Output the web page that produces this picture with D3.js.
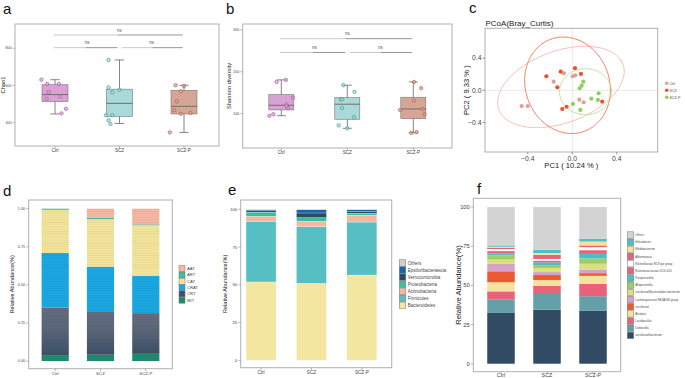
<!DOCTYPE html>
<html><head><meta charset="utf-8">
<script src="https://cdn.jsdelivr.net/npm/d3@7/dist/d3.min.js"></script>
<style>body{margin:0;background:#fff}svg{display:block;font-family:"Liberation Sans",Arial,sans-serif}</style>
</head><body>
<svg id="chart" width="685" height="378"></svg>
<script>
// ---------------- DATA ----------------
const groups = ["Ctrl", "SCZ", "SCZ-P"];

// (a) Chao1
const chao1Ticks = [400, 600, 800];
const chao1Q1 = [513, 434, 447];
const chao1Med = [551, 504, 488];
const chao1Q3 = [604, 580, 574];
const chao1Lo = [447, 396, 348];
const chao1Hi = [631, 737, 601];
const chao1Points = [[631, 608, 608, 565, 529, 541, 475, 450], [737, 590, 563, 577, 440, 440, 413, 393], [601, 597, 569, 515, 468, 448, 452, 348]];
const chao1Jitter = [[-0.21, -0.12, 0.06, -0.10, -0.13, 0.08, 0.17, 0.10], [-0.17, -0.17, -0.11, 0, -0.21, -0.11, -0.17, -0.14], [-0.13, 0, -0.05, -0.11, -0.15, -0.05, 0.10, -0.22]];
const chao1Sig = [871, 803];

// (b) Shannon
const shannonTicks = [100, 200, 300];
const shannonQ1 = [108.9, 86.6, 88];
const shannonMed = [120, 122.5, 111.2];
const shannonQ3 = [145.5, 138.3, 139.2];
const shannonLo = [95.2, 65, 54.5];
const shannonHi = [180.6, 167.9, 175.8];
const shannonPoints = [[175.8, 180.6, 138, 121.5, 113, 95, 98.6, 118], [168, 152, 134, 134, 113.6, 91.4, 72, 65], [175.8, 160.8, 131, 108.9, 111.2, 98.6, 54, 56]];
const shannonJitter = [[-0.07, 0.07, 0.18, 0.08, 0.10, -0.18, -0.12, 0.08], [-0.06, 0.11, -0.10, -0.08, -0.08, 0.10, -0.13, 0], [0.01, 0.12, 0.01, -0.20, 0.14, 0.17, -0.03, 0.05]];
const shannonSig = [279, 246];

// (c) PCoA
const pcTicks = [-0.4, 0.0, 0.4];
const pc1 = [[-0.455, -0.401, -0.167, -0.075, 0.004, 0.027, 0.063, 0.102], [-0.233, -0.104, -0.135, 0.024, 0.078, -0.051, -0.090, 0.269], [0.099, 0.084, 0.066, 0.006, 0.072, 0.171, 0.237, 0.230]];
const pc2 = [[-0.196, -0.196, 0.107, 0.211, 0.174, 0.186, -0.117, -0.149], [0.174, 0.231, 0.037, 0.274, 0.203, -0.205, -0.233, -0.140], [0.107, 0.057, 0.025, -0.170, -0.244, -0.104, -0.037, -0.120]];
const ellipseCx = [-0.102, -0.043, 0.119];
const ellipseCy = [0.041, 0.062, -0.017];
const ellipseM = [[0.558, -0.111, 0.280, 0.420], [-0.1506, -0.3549, 0.5722, -0.1784], [0.234, 0, 0, 0.286]];
const pcLegend = ["Ctrl", "SCZ", "SCZ-P"];

// (d) gene abundance
const dKeys = ["MIT", "CRT", "CRAT", "CAT", "ART", "AAT"];
const dValues = {
  MIT: [0.035, 0.042, 0.053],
  CRT: [0.317, 0.280, 0.262],
  CRAT: [0.357, 0.297, 0.243],
  CAT: [0.284, 0.313, 0.333],
  ART: [0.007, 0.009, 0.006],
  AAT: [0.0, 0.059, 0.103]
};
const dTicks = [0, 0.25, 0.5, 0.75, 1.0];

// (e) phylum
const eKeys = ["Bacteroidetes", "Firmicutes", "Actinobacteria", "Proteobacteria", "Verrucomicrobia", "Epsilonbacteraeota", "Others"];
const eValues = {
  Bacteroidetes: [51.9, 51.0, 56.5],
  Firmicutes: [40.2, 37.5, 35.1],
  Actinobacteria: [3.3, 3.6, 4.6],
  Proteobacteria: [2.8, 2.4, 1.2],
  Verrucomicrobia: [0.9, 3.1, 1.1],
  Epsilonbacteraeota: [0.7, 2.2, 1.3],
  Others: [0.2, 0.2, 0.2]
};
const pctTicks = [0, 25, 50, 75, 100];

// (f) genus
const fKeys = ["uncultured bacterium", "Dubosiella", "Lactobacillus", "Alistipes", "uncultured", "Lachnospiraceae NK4A136 group", "uncultured Bacteroidales bacterium", "Alloprevotella", "Paraprevotella", "Ruminococcaceae UCG-014", "Rikenellaceae RC9 gut group", "Akkermansia", "Bifidobacterium", "Helicobacter", "Others"];
const fValues = {
  "uncultured bacterium": [32.4, 34.5, 33.9],
  "Dubosiella": [8.5, 10.0, 9.2],
  "Lactobacillus": [5.3, 5.3, 7.9],
  "Alistipes": [5.8, 3.6, 5.1],
  "uncultured": [7.0, 3.2, 1.7],
  "Lachnospiraceae NK4A136 group": [4.9, 1.9, 2.1],
  "uncultured Bacteroidales bacterium": [2.6, 2.6, 3.9],
  "Alloprevotella": [2.6, 1.9, 3.4],
  "Paraprevotella": [1.3, 1.7, 2.9],
  "Ruminococcaceae UCG-014": [1.5, 1.1, 2.4],
  "Rikenellaceae RC9 gut group": [1.3, 1.1, 1.9],
  "Akkermansia": [0.85, 2.6, 1.1],
  "Bifidobacterium": [0.6, 1.1, 2.5],
  "Helicobacter": [0.85, 2.1, 1.7],
  "Others": [24.5, 27.3, 20.3]
};

// ---------------- STYLES ----------------
const boxFill = ["#d9a2d2", "#a9d9d8", "#d7a595"];
const ptStroke = ["#a45fa2", "#3f9d9c", "#b0644f"];
const pcColor = ["#dda195", "#ef4f2e", "#90cf5b"];
const ellColor = ["#f2b9aa", "#f0714f", "#b5dd92"];
const dColor = {AAT: "#f5b7a2", ART: "#3fbc9f", CAT: "#f2e49b", CRAT: "#1ba7e1", CRT: "#3e5168", MIT: "#1f8b6d"};
const eColor = {Others: "#cfcfcf", Epsilonbacteraeota: "#1566a9", Verrucomicrobia: "#2e4a5f", Proteobacteria: "#3ebd9d", Actinobacteria: "#f5b6a2", Firmicutes: "#55bfc3", Bacteroidetes: "#f3e6a0"};
const fColor = {
  "Others": "#d3d3d3", "Helicobacter": "#4dbdc6", "Bifidobacterium": "#f4e39c", "Akkermansia": "#e9617b",
  "Rikenellaceae RC9 gut group": "#ffffff", "Ruminococcaceae UCG-014": "#e9617b", "Paraprevotella": "#4dbdc6",
  "Alloprevotella": "#9ecb6c", "uncultured Bacteroidales bacterium": "#d9e07c", "Lachnospiraceae NK4A136 group": "#d7a1c9",
  "uncultured": "#eb5a31", "Alistipes": "#f4e39c", "Lactobacillus": "#e9617b", "Dubosiella": "#63a0a7", "uncultured bacterium": "#304b63"
};
const frameStroke = "#b0b0b0";
const textCol = "#444";

const svg = d3.select("#chart");
const defs = svg.append("defs");

function panelLabel(t, x, y) {
  svg.append("text").attr("x", x).attr("y", y).attr("font-size", 15).attr("fill", "#111").text(t);
}
function frame(g, x0, y0, x1, y1) {
  g.append("rect").attr("x", x0).attr("y", y0).attr("width", x1 - x0).attr("height", y1 - y0)
    .attr("fill", "none").attr("stroke", frameStroke).attr("stroke-width", 1);
}
function yAxis(g, y, x0, ticks, fmt, fs) {
  ticks.forEach(t => {
    g.append("line").attr("x1", x0 - 2.5).attr("x2", x0).attr("y1", y(t)).attr("y2", y(t)).attr("stroke", "#777").attr("stroke-width", 0.5);
    g.append("text").attr("x", x0 - 3.5).attr("y", y(t)).attr("dy", "0.35em").attr("text-anchor", "end")
      .attr("font-size", fs).attr("fill", textCol).text(fmt(t));
  });
}
function xAxis(g, xs, y1, labels, fs, dy) {
  labels.forEach(l => {
    g.append("line").attr("x1", xs(l)).attr("x2", xs(l)).attr("y1", y1).attr("y2", y1 + 2.5).attr("stroke", "#777").attr("stroke-width", 0.5);
    g.append("text").attr("x", xs(l)).attr("y", y1 + dy).attr("text-anchor", "middle").attr("font-size", fs).attr("fill", textCol).text(l);
  });
}
function vTitle(g, t, x, y, fs) {
  g.append("text").attr("transform", `translate(${x},${y}) rotate(-90)`).attr("text-anchor", "middle")
    .attr("font-size", fs).attr("fill", "#222").text(t);
}

// ---------------- BOX PANELS ----------------
function boxPanel(opt) {
  const g = svg.append("g");
  const x = d3.scalePoint().domain(groups).range([opt.cx0, opt.cx1]);
  const y = d3.scaleLinear().domain(opt.dom).range([opt.fy1, opt.fy0]);
  const step = x.step();
  const bw = opt.bw;
  groups.forEach((gr, i) => {
    const cx = x(gr);
    g.append("line").attr("x1", cx).attr("x2", cx).attr("y1", y(opt.lo[i])).attr("y2", y(opt.hi[i])).attr("stroke", "#666").attr("stroke-width", 0.8);
    [opt.lo[i], opt.hi[i]].forEach(v => g.append("line").attr("x1", cx - bw * 0.18).attr("x2", cx + bw * 0.18).attr("y1", y(v)).attr("y2", y(v)).attr("stroke", "#666").attr("stroke-width", 0.8));
    g.append("rect").attr("x", cx - bw / 2).attr("y", y(opt.q3[i])).attr("width", bw).attr("height", y(opt.q1[i]) - y(opt.q3[i]))
      .attr("fill", boxFill[i]).attr("stroke", "#777").attr("stroke-width", 0.6);
    g.append("line").attr("x1", cx - bw / 2).attr("x2", cx + bw / 2).attr("y1", y(opt.med[i])).attr("y2", y(opt.med[i])).attr("stroke", "#666").attr("stroke-width", 0.9);
    opt.pts[i].forEach((v, j) => {
      g.append("circle").attr("cx", cx + opt.jit[i][j] * step).attr("cy", y(v)).attr("r", 1.7)
        .attr("fill", boxFill[i]).attr("fill-opacity", 0.7).attr("stroke", ptStroke[i]).attr("stroke-width", 0.7);
    });
  });
  // significance brackets (Ctrl–SCZ-P on top, Ctrl–SCZ and SCZ–SCZ-P below)
  const sigs = [[0, 2, opt.sig[0]], [0, 1, opt.sig[1]], [1, 2, opt.sig[1]]];
  sigs.forEach(([a, b, v]) => {
    const xa = a === 1 ? x(groups[a]) + 0.04 * step : x(groups[a]) - 0.02 * step;
    const xb = b === 1 ? x(groups[b]) - 0.03 * step : x(groups[b]) - 0.02 * step;
    const xm = (xa + xb) / 2;
    g.append("line").attr("x1", xa).attr("x2", xm).attr("y1", y(v)).attr("y2", y(v)).attr("stroke-width", 0.9).attr("stroke", "#c4c4c4");
    g.append("line").attr("x1", xm).attr("x2", xb).attr("y1", y(v)).attr("y2", y(v)).attr("stroke-width", 0.9).attr("stroke", "#8a8a8a");
    g.append("text").attr("x", (x(groups[a]) + x(groups[b])) / 2).attr("y", y(v) - 3.3).attr("text-anchor", "middle")
      .attr("font-size", 4.5).attr("fill", "#555").text("ns");
  });
  frame(g, opt.fx0, opt.fy0, opt.fx1, opt.fy1);
  yAxis(g, y, opt.fx0, opt.ticks, d3.format("d"), 3.6);
  xAxis(g, x, opt.fy1, groups, 4.6, 6.2);
  vTitle(g, opt.title, opt.titleX, (opt.fy0 + opt.fy1) / 2, 5.8);
}

boxPanel({fx0: 15, fx1: 219, fy0: 24, fy1: 146, cx0: 55, cx1: 184, bw: 26, dom: [275, 930], ticks: chao1Ticks,
  q1: chao1Q1, med: chao1Med, q3: chao1Q3, lo: chao1Lo, hi: chao1Hi, pts: chao1Points, jit: chao1Jitter, sig: chao1Sig,
  title: "Chao1", titleX: 5});
boxPanel({fx0: 242.7, fx1: 452, fy0: 24, fy1: 148, cx0: 281.3, cx1: 413.3, bw: 25, dom: [18, 314], ticks: shannonTicks,
  q1: shannonQ1, med: shannonMed, q3: shannonQ3, lo: shannonLo, hi: shannonHi, pts: shannonPoints, jit: shannonJitter, sig: shannonSig,
  title: "Shannon diversity", titleX: 231});

panelLabel("a", 3, 14);
panelLabel("b", 226, 14);

// ---------------- PCoA ----------------
(function () {
  const g = svg.append("g");
  const fx0 = 485, fx1 = 657.7, fy0 = 28.3, fy1 = 152;
  const x = d3.scaleLinear().domain([-0.785, 0.768]).range([fx0, fx1]);
  const y = d3.scaleLinear().domain([-0.767, 0.77]).range([fy1, fy0]);
  g.append("line").attr("x1", x(0)).attr("x2", x(0)).attr("y1", fy0).attr("y2", fy1).attr("stroke", "#e3e3e3").attr("stroke-width", 0.8);
  g.append("line").attr("x1", fx0).attr("x2", fx1).attr("y1", y(0)).attr("y2", y(0)).attr("stroke", "#e3e3e3").attr("stroke-width", 0.8);
  const ts = d3.range(0, 2 * Math.PI + 0.01, Math.PI / 90);
  const line = d3.line().x(d => x(d[0])).y(d => y(d[1]));
  groups.forEach((gr, i) => {
    const m = ellipseM[i];
    const pts = ts.map(t => [ellipseCx[i] + m[0] * Math.cos(t) + m[1] * Math.sin(t), ellipseCy[i] + m[2] * Math.cos(t) + m[3] * Math.sin(t)]);
    g.append("path").attr("d", line(pts)).attr("fill", "none").attr("stroke", ellColor[i]).attr("stroke-width", 0.9);
  });
  groups.forEach((gr, i) => {
    pc1[i].forEach((v, j) => {
      g.append("circle").attr("cx", x(v)).attr("cy", y(pc2[i][j])).attr("r", 2.1).attr("fill", pcColor[i]);
    });
  });
  frame(g, fx0, fy0, fx1, fy1);
  const fmt = v => (v < 0 ? "\u2212" : "") + Math.abs(v).toFixed(1);
  pcTicks.forEach(t => {
    g.append("line").attr("x1", fx0 - 2.5).attr("x2", fx0).attr("y1", y(t)).attr("y2", y(t)).attr("stroke", "#555").attr("stroke-width", 0.6);
    g.append("text").attr("x", fx0 - 3.5).attr("y", y(t)).attr("dy", "0.35em").attr("text-anchor", "end").attr("font-size", 6.8).attr("fill", textCol).text(fmt(t));
    g.append("line").attr("x1", x(t)).attr("x2", x(t)).attr("y1", fy1).attr("y2", fy1 + 2.5).attr("stroke", "#555").attr("stroke-width", 0.6);
    g.append("text").attr("x", x(t)).attr("y", fy1 + 9).attr("text-anchor", "middle").attr("font-size", 6.8).attr("fill", textCol).text(fmt(t));
  });
  g.append("text").attr("x", (fx0 + fx1) / 2).attr("y", 167.5).attr("text-anchor", "middle").attr("font-size", 7.6).attr("fill", "#222").text("PC1 ( 10.24 % )");
  vTitle(g, "PC2 ( 9.33 % )", 468.5, (fy0 + fy1) / 2, 7.6);
  g.append("text").attr("x", fx0 + 0.5).attr("y", 26).attr("font-size", 8).attr("fill", "#222").text("PCoA(Bray_Curtis)");
  pcLegend.forEach((l, i) => {
    g.append("circle").attr("cx", 666.7).attr("cy", 83.3 + i * 7).attr("r", 1.8).attr("fill", pcColor[i]);
    g.append("text").attr("x", 669.5).attr("y", 83.3 + i * 7).attr("dy", "0.35em").attr("font-size", 3.6).attr("fill", textCol).text(l);
  });
})();
panelLabel("c", 469, 13);

// ---------------- STACKED BAR PANELS ----------------
const pat = defs.append("pattern").attr("id", "stripes").attr("patternUnits", "userSpaceOnUse").attr("width", 10).attr("height", 2.2);
pat.append("rect").attr("x", 0).attr("y", 0).attr("width", 10).attr("height", 0.5).attr("fill", "#000").attr("fill-opacity", 0.07);
const crtGrad = defs.append("linearGradient").attr("id", "crtGrad").attr("x1", 0).attr("x2", 0).attr("y1", 0).attr("y2", 1);
crtGrad.append("stop").attr("offset", 0).attr("stop-color", "#636d7f");
crtGrad.append("stop").attr("offset", 0.45).attr("stop-color", "#5a6679");
crtGrad.append("stop").attr("offset", 1).attr("stop-color", "#3c5068");

function stackPanel(opt) {
  const g = svg.append("g");
  const x = d3.scaleBand().domain(groups).range([opt.bx0, opt.bx1]).paddingInner(opt.pi).paddingOuter(opt.po);
  const y = d3.scaleLinear().domain(opt.dom).range([opt.fy1, opt.fy0]);
  const rows = groups.map((gr, i) => { const r = {group: gr}; opt.keys.forEach(k => r[k] = opt.values[k][i]); return r; });
  const series = d3.stack().keys(opt.keys)(rows);
  series.forEach(s => {
    s.forEach(d => {
      const h = y(d[0]) - y(d[1]);
      if (h <= 0) return;
      g.append("rect").attr("x", x(d.data.group)).attr("y", y(d[1])).attr("width", x.bandwidth()).attr("height", h)
        .attr("fill", opt.fill(s.key)).attr("stroke", opt.stroke || "none").attr("stroke-width", opt.sw || 0);
      if (opt.stripes) g.append("rect").attr("x", x(d.data.group)).attr("y", y(d[1])).attr("width", x.bandwidth()).attr("height", h).attr("fill", "url(#stripes)");
    });
  });
  frame(g, opt.fx0, opt.fy0, opt.fx1, opt.fy1);
  yAxis(g, y, opt.fx0, opt.ticks, opt.fmt, opt.tfs);
  const xc = gname => x(gname) + x.bandwidth() / 2;
  xAxis(g, xc, opt.fy1, groups, opt.xfs, opt.xdy);
  vTitle(g, "Relative Abundance(%)", opt.titleX, (opt.fy0 + opt.fy1) / 2, opt.titleFs);
  // legend
  const lk = opt.keys.slice().reverse();
  lk.forEach((k, i) => {
    const cy = opt.ly0 + i * opt.lsp;
    g.append("rect").attr("x", opt.lx).attr("y", cy - opt.ks / 2).attr("width", opt.ks).attr("height", opt.ks)
      .attr("fill", opt.legFill(k)).attr("stroke", "#777").attr("stroke-width", 0.5);
    g.append("text").attr("x", opt.lx + opt.ks + opt.tgap).attr("y", cy).attr("dy", "0.35em").attr("font-size", opt.lfs).attr("fill", textCol).text(k);
  });
  return g;
}

stackPanel({keys: dKeys, values: dValues, fill: k => k === "CRT" ? "url(#crtGrad)" : dColor[k], legFill: k => dColor[k], stripes: true,
  bx0: 28.7, bx1: 172.3, pi: 0.4, po: 0.285, fx0: 28.7, fx1: 172.3, fy0: 200, fy1: 368.7, dom: [-0.05, 1.057],
  ticks: dTicks, fmt: d3.format(".2f"), tfs: 3.8, xfs: 4.4, xdy: 5.8, titleX: 14, titleFs: 5.6,
  lx: 179, ly0: 268.7, lsp: 6.3, ks: 6, lfs: 4.2, tgap: 2});
stackPanel({keys: eKeys, values: eValues, fill: k => eColor[k], legFill: k => eColor[k], stroke: "#fff", sw: 0.25,
  bx0: 241, bx1: 381.9, pi: 0.405, po: 0.1, fx0: 240.7, fx1: 391.7, fy0: 200, fy1: 367.7, dom: [-4.9, 106.2],
  ticks: pctTicks, fmt: d3.format("d"), tfs: 4.2, xfs: 4.6, xdy: 6, titleX: 227, titleFs: 5.6,
  lx: 399.3, ly0: 263, lsp: 7.05, ks: 6.5, lfs: 4.5, tgap: 2});
stackPanel({keys: fKeys, values: fValues, fill: k => fColor[k], legFill: k => fColor[k],
  bx0: 473.3, bx1: 620.7, pi: 0.402, po: 0.303, fx0: 473.3, fx1: 620.7, fy0: 198.3, fy1: 371.7, dom: [-5.1, 105.6],
  ticks: pctTicks, fmt: d3.format("d"), tfs: 5.8, xfs: 5.4, xdy: 4.9, titleX: 461, titleFs: 7.6,
  lx: 627.3, ly0: 235, lsp: 7.17, ks: 6.4, lfs: 2.85, tgap: 1.6});

panelLabel("d", 3, 196);
panelLabel("e", 228, 195);
panelLabel("f", 477, 194);
</script>
</body></html>
